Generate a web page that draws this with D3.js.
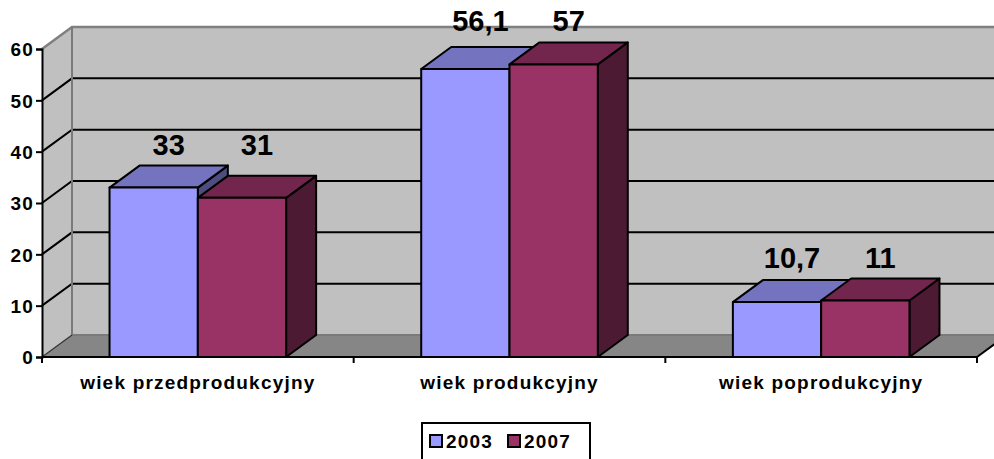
<!DOCTYPE html>
<html>
<head>
<meta charset="utf-8">
<script src="https://cdn.jsdelivr.net/npm/d3@7/dist/d3.min.js"></script>
<style>
html,body{margin:0;padding:0;background:#fff;}
svg{display:block;}
text{font-family:"Liberation Sans",Arial,sans-serif;font-weight:bold;fill:#000;}
</style>
</head>
<body>
<svg id="chart" width="994" height="459"></svg>
<script>
const categories = ["wiek przedprodukcyjny", "wiek produkcyjny", "wiek poprodukcyjny"];
const seriesNames = ["2003", "2007"];
const values2003 = [33, 56.1, 10.7];
const values2007 = [31, 57, 11];
const valueLabels2003 = ["33", "56,1", "10,7"];
const valueLabels2007 = ["31", "57", "11"];
const yTicks = [0, 10, 20, 30, 40, 50, 60];

const colors = {
  "2003": {front: "#9999FF", top: "#7373BF", side: "#4D4D80"},
  "2007": {front: "#993366", top: "#73264D", side: "#4D1A33"}
};

(function () {
const svg = d3.select("#chart");
const pLeft = 42, pRight = 977, pBottom = 357, pTop = 49;
const dx = 30, dy = 22;
const farRight = pRight + dx + 40;
const smallFont = "19px", smallSpacing = "1.2px";

const y = d3.scaleLinear().domain([0, 60]).range([pBottom, pTop]);
const x0 = d3.scaleBand().domain(categories).range([pLeft, pRight]).padding(0);
const x1 = d3.scaleBand().domain(seriesNames).range([0, x0.bandwidth()])
  .paddingInner(0).paddingOuter(0.765);

const poly = (pts) => "M" + pts.map(p => p.join(",")).join("L") + "Z";

// back wall
svg.append("path")
  .attr("d", poly([[pLeft+dx, y(60)-dy],[farRight, y(60)-dy],[farRight, y(0)-dy],[pLeft+dx, y(0)-dy]]))
  .attr("fill", "#C0C0C0");
// side wall
svg.append("path")
  .attr("d", poly([[pLeft, y(0)],[pLeft, y(60)],[pLeft+dx, y(60)-dy],[pLeft+dx, y(0)-dy]]))
  .attr("fill", "#C0C0C0");
// floor
svg.append("path")
  .attr("d", poly([[pLeft, y(0)],[pRight, y(0)],[pRight+dx, y(0)-dy],[farRight, y(0)-dy],[pLeft+dx, y(0)-dy]]))
  .attr("fill", "#868686");

// gridlines
const grid = yTicks.filter(v => v > 0 && v < 60);
svg.append("g").selectAll("path").data(grid).join("path")
  .attr("d", v => `M${pLeft},${y(v)}L${pLeft+dx},${y(v)-dy}L${farRight},${y(v)-dy}`)
  .attr("fill", "none").attr("stroke", "#000").attr("stroke-width", 2);

// wall borders (gray)
svg.append("path")
  .attr("d", `M${pLeft},${y(60)}L${pLeft+dx},${y(60)-dy}L${farRight},${y(60)-dy}`)
  .attr("fill", "none").attr("stroke", "#808080").attr("stroke-width", 2.5);
svg.append("path")
  .attr("d", `M${pLeft+dx},${y(60)-dy}L${pLeft+dx},${y(0)-dy}L${farRight},${y(0)-dy}`)
  .attr("fill", "none").attr("stroke", "#7a7a7a").attr("stroke-width", 2);
svg.append("path")
  .attr("d", `M${pLeft},${y(0)}L${pLeft+dx},${y(0)-dy}`)
  .attr("fill", "none").attr("stroke", "#333").attr("stroke-width", 1.2);
svg.append("path")
  .attr("d", `M${pRight},${y(0)}L${pRight+dx},${y(0)-dy}`)
  .attr("fill", "none").attr("stroke", "#000").attr("stroke-width", 2);

// bars
const rows = categories.map((c, i) => ({
  cat: c,
  max: Math.max(values2003[i], values2007[i]),
  bars: [
    {s: "2003", v: values2003[i], label: valueLabels2003[i]},
    {s: "2007", v: values2007[i], label: valueLabels2007[i]}
  ]
}));

const gBars = svg.append("g");
rows.forEach(r => {
  r.bars.forEach(b => {
    const xa = x0(r.cat) + x1(b.s), xb = xa + x1.bandwidth();
    const yt = y(b.v), yb = y(0);
    const c = colors[b.s];
    const g = gBars.append("g").attr("stroke", "#000").attr("stroke-width", 2).attr("stroke-linejoin", "round");
    g.append("path").attr("d", poly([[xb, yb],[xb+dx, yb-dy],[xb+dx, yt-dy],[xb, yt]])).attr("fill", c.side);
    g.append("path").attr("d", poly([[xa, yt],[xa+dx, yt-dy],[xb+dx, yt-dy],[xb, yt]])).attr("fill", c.top);
    g.append("rect").attr("x", xa).attr("y", yt).attr("width", xb-xa).attr("height", yb-yt).attr("fill", c.front);
  });
});

// value labels
rows.forEach(r => {
  r.bars.forEach(b => {
    const xa = x0(r.cat) + x1(b.s);
    svg.append("text")
      .attr("x", xa + x1.bandwidth()/2 + dx/2)
      .attr("y", y(r.max) - dy - 11)
      .attr("text-anchor", "middle")
      .style("font-size", "29px")
      .text(b.label);
  });
});

// y axis
const yAxis = svg.append("g").attr("transform", `translate(${pLeft},0)`)
  .call(d3.axisLeft(y).tickValues(yTicks).tickSize(6).tickPadding(2).tickFormat(d3.format("d")));
yAxis.select(".domain").attr("stroke", "#000").attr("stroke-width", 2);
yAxis.selectAll(".tick line").attr("stroke", "#000").attr("stroke-width", 2);
yAxis.selectAll(".tick text").style("font-size", smallFont).style("letter-spacing", smallSpacing)
  .style("font-family", "'Liberation Sans',Arial,sans-serif").style("font-weight", "bold")
  .attr("fill", "#000").attr("dy", "0.36em");

// x axis
svg.append("line").attr("x1", pLeft).attr("x2", pRight).attr("y1", pBottom).attr("y2", pBottom)
  .attr("stroke", "#000").attr("stroke-width", 2);
const bounds = categories.map(c => x0(c)).concat([pRight]);
svg.append("g").selectAll("line").data(bounds).join("line")
  .attr("x1", d => d).attr("x2", d => d).attr("y1", pBottom).attr("y2", pBottom + 6)
  .attr("stroke", "#000").attr("stroke-width", 2);
svg.append("g").selectAll("text").data(categories).join("text")
  .attr("x", d => x0(d) + x0.bandwidth()/2)
  .attr("y", 389)
  .attr("text-anchor", "middle")
  .style("font-size", smallFont).style("letter-spacing", smallSpacing)
  .text(d => d);

// legend
const lg = svg.append("g");
lg.append("rect").attr("x", 422).attr("y", 423).attr("width", 168).attr("height", 50)
  .attr("fill", "#fff").attr("stroke", "#000").attr("stroke-width", 2);
const legX = [430, 508];
seriesNames.forEach((s, i) => {
  lg.append("rect").attr("x", legX[i]).attr("y", 435).attr("width", 12).attr("height", 12)
    .attr("fill", colors[s].front).attr("stroke", "#000").attr("stroke-width", 2);
  lg.append("text").attr("x", legX[i] + 16).attr("y", 448).style("font-size", smallFont)
    .style("letter-spacing", smallSpacing).text(s);
});
})();
</script>
</body>
</html>
